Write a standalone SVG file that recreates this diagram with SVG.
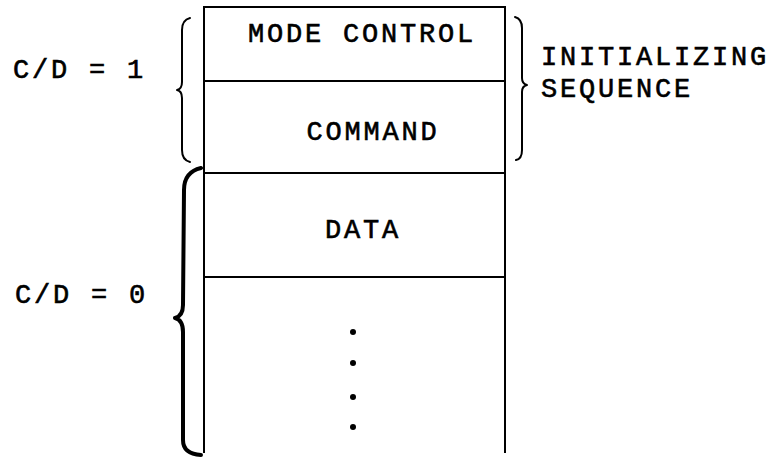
<svg xmlns="http://www.w3.org/2000/svg" width="770" height="459" viewBox="0 0 770 459">
  <style>
    .t { font-family: "Liberation Mono", "DejaVu Sans Mono", monospace; font-size: 27px; letter-spacing: 2.8px; fill: #000; stroke: #000; stroke-width: 0.6px; }
    .c { text-anchor: middle; }
    .edge { fill: none; stroke: #000; stroke-width: 2; stroke-linecap: square; }
    .brace { fill: none; stroke: #000; stroke-width: 2; stroke-linejoin: round; stroke-linecap: round; }
    .brace-big { fill: none; stroke: #000; stroke-width: 4; stroke-linejoin: round; stroke-linecap: round; }
  </style>
  <rect width="770" height="459" fill="#fff"/>

  <!-- stacked word frames -->
  <g id="mode-control">
    <path class="edge" d="M204 7 H505 M204 7 V81 M505 7 V81"/>
    <text class="t c" x="362" y="42">MODE CONTROL</text>
  </g>
  <g id="command">
    <path class="edge" d="M204 81 H505 M204 81 V173 M505 81 V173"/>
    <text class="t c" x="373" y="140">COMMAND</text>
  </g>
  <g id="data">
    <path class="edge" d="M204 173 H505 M204 173 V277 M505 173 V277"/>
    <text class="t c" x="363" y="238">DATA</text>
  </g>
  <g id="more-data">
    <path class="edge" d="M204 277 H505 M204 277 V452 M505 277 V452"/>
    <circle cx="353" cy="332" r="3"/>
    <circle cx="353" cy="363" r="3"/>
    <circle cx="353" cy="397" r="3"/>
    <circle cx="353" cy="427" r="3"/>
  </g>

  <!-- braces and their labels -->
  <g id="connectors">
    <path class="brace" d="M190 18 Q182 20 182 30 L182 82 Q182 89 177 90 Q182 91 182 98 L182 150 Q182 160 190 162"/>
    <path class="brace" d="M515 17 Q522 19 522 28 L522 78 Q522 84 527 85 Q522 86 522 92 L522 150 Q522 159 516 160"/>
    <path class="brace-big" d="M201 168 Q184 172 184 190 L183 305 Q183 316 175 318 Q183 320 183 332 L183 440 Q183 454 201 455"/>
  </g>
  <g id="cd1">
    <text class="t" x="13" y="78">C/D = 1</text>
  </g>
  <g id="cd0">
    <text class="t" x="15" y="303">C/D = 0</text>
  </g>
  <g id="init-seq">
    <text class="t" x="541" y="65">INITIALIZING</text>
    <text class="t" x="541" y="97">SEQUENCE</text>
  </g>
</svg>
